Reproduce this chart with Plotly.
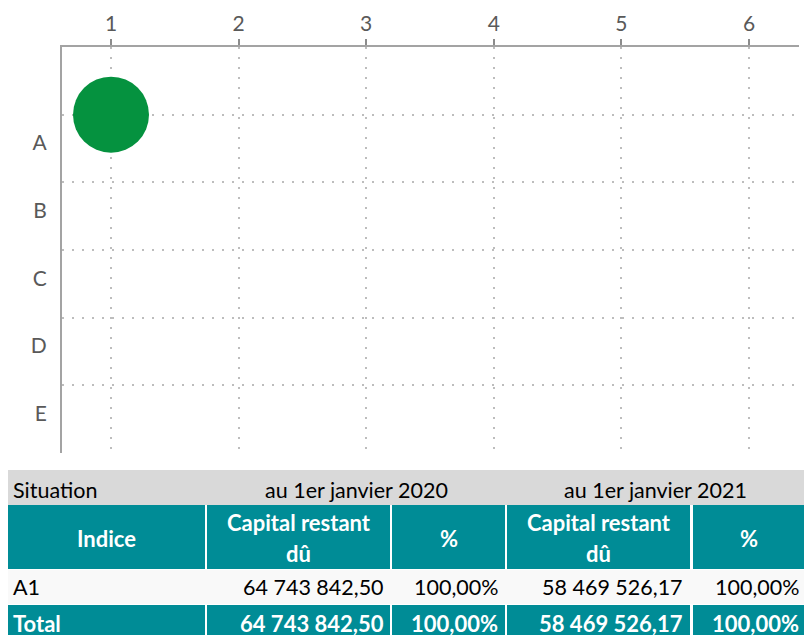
import plotly.graph_objects as go

# ---------------- data ----------------
x_ticks = [1, 2, 3, 4, 5, 6]
y_categories = ["A", "B", "C", "D", "E"]
bubble_x = [1]
bubble_y = ["A"]
bubble_size = [100.0]  # share (%)

situation_label = "Situation"
period_labels = ["au 1er janvier 2020", "au 1er janvier 2021"]
header_labels = ["Indice", "Capital restant\ndû", "%", "Capital restant\ndû", "%"]
row_labels = ["A1", "Total"]
capital_2020 = ["64 743 842,50", "64 743 842,50"]
pct_2020 = ["100,00%", "100,00%"]
capital_2021 = ["58 469 526,17", "58 469 526,17"]
pct_2021 = ["100,00%", "100,00%"]

# ---------------- styling ----------------
W, H = 804, 635
L, R, T, B = 62, 799, 47, 453
FONT = "Lato"
TEAL = "#008C96"
GREEN = "#05923F"
AXIS = "#A3A3A3"
GRID = "#BDBDBD"
LABEL_OFFSET = 0.42
FS = 21.5
FSB = 22

def px(p):
    return (p - L) / (R - L)

def py(p):
    return (B - p) / (B - T)

y_pos = {c: i + 1 for i, c in enumerate(y_categories)}

fig = go.Figure()
fig.add_trace(go.Scatter(
    x=bubble_x,
    y=[y_pos[c] for c in bubble_y],
    mode="markers",
    marker=dict(size=bubble_size, sizemode="diameter", sizeref=100.0 / 76.0,
                color=GREEN, line=dict(width=0), opacity=1),
    hoverinfo="skip",
    showlegend=False,
))

x_unit = 127.6
x0 = x_ticks[0] - (111 - L) / x_unit
x1 = x_ticks[0] + (R - 111) / x_unit

fig.update_layout(
    width=W, height=H,
    margin=dict(l=L, r=W - R, t=T, b=H - B),
    paper_bgcolor="white", plot_bgcolor="white",
    font=dict(family=FONT, color="#595959", size=21),
    xaxis=dict(
        side="top", range=[x0, x1], tickvals=x_ticks,
        ticktext=[str(v) for v in x_ticks],
        showline=True, linecolor=AXIS, linewidth=2,
        ticks="outside", ticklen=6, tickwidth=2, tickcolor="#8C8C8C",
        showgrid=True, gridcolor=GRID, gridwidth=1.5, griddash="2px,8px",
        zeroline=False, tickfont=dict(size=21, color="#595959"),
    ),
    yaxis=dict(
        range=[len(y_categories) + 1, 0],
        tickvals=[y_pos[c] + LABEL_OFFSET for c in y_categories],
        ticktext=y_categories,
        showline=True, linecolor=AXIS, linewidth=2,
        ticks="", ticklabelstandoff=9,
        showgrid=False, zeroline=False,
        tickfont=dict(size=21, color="#595959"),
        minor=dict(tickvals=list(range(1, len(y_categories) + 2)), showgrid=True,
                   gridcolor=GRID, gridwidth=1.5, griddash="2px,8px", ticks=""),
    ),
)

shapes = []
annotations = []

def rect(x_a, x_b, y_a, y_b, color):
    shapes.append(dict(type="rect", xref="paper", yref="paper",
                       x0=px(x_a), x1=px(x_b), y0=py(y_b), y1=py(y_a),
                       fillcolor=color, line=dict(width=0), layer="above"))

def text(t, x, y, anchor, bold=False, color="black"):
    annotations.append(dict(text=f"<b>{t}</b>" if bold else t, xref="paper", yref="paper",
                            x=px(x), y=py(y), xanchor=anchor, yanchor="middle",
                            showarrow=False,
                            font=dict(family=FONT, size=FSB if bold else FS, color=color)))

cols = [(8, 205), (207, 390), (392, 505), (507, 690), (693, 810)]
rows = {"sit": (470, 505), "head": (505, 569), "r0": (570, 604), "r1": (605, 645)}

# Situation row
rect(8, 810, *rows["sit"], "#D9D9D9")
text(situation_label, 11, 490, "left")
text(period_labels[0], (cols[1][0] + cols[2][1]) / 2, 490, "center")
text(period_labels[1], (cols[3][0] + cols[4][1] - 6) / 2, 490, "center")

# Header row
for (ca, cb), lab in zip(cols, header_labels):
    rect(ca, cb, *rows["head"], TEAL)
    lines = lab.split("\n")
    cx = (ca + min(cb, 804)) / 2
    if len(lines) == 1:
        text(lines[0], cx, 538, "center", bold=True, color="white")
    else:
        text(lines[0], cx, 522, "center", bold=True, color="white")
        text(lines[1], cx, 553, "center", bold=True, color="white")

# Body rows
right_edges = [386, 500, 685, 801]
for i, name in enumerate(row_labels):
    ya, yb = rows["r0"] if i == 0 else rows["r1"]
    ymid = 587 if i == 0 else 623
    total = i == len(row_labels) - 1
    if total:
        for ca, cb in cols:
            rect(ca, cb, ya, yb, TEAL)
        color = "white"
    else:
        rect(8, 810, ya, yb, "#F9F9F9")
        color = "black"
    text(name, 11, ymid, "left", bold=total, color=color)
    vals = [capital_2020[i], pct_2020[i], capital_2021[i], pct_2021[i]]
    for v, re in zip(vals, right_edges):
        text(v, re, ymid, "right", bold=total, color=color)

fig.update_layout(shapes=shapes, annotations=annotations)
fig.write_html("out.html", config={"displayModeBar": False},
               post_script="document.body.style.margin='0';document.body.style.overflow='hidden';")
